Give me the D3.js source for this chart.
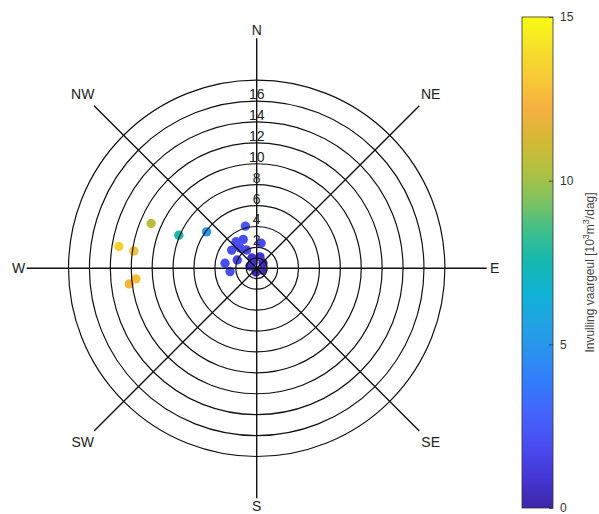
<!DOCTYPE html>
<html>
<head>
<meta charset="utf-8">
<script src="https://cdn.jsdelivr.net/npm/d3@7"></script>
<style>
  html, body { margin: 0; padding: 0; background: #fff; }
  svg { display: block; font-family: "Liberation Sans", Arial, Helvetica, sans-serif; }
</style>
</head>
<body>
<svg id="chart" width="599" height="514"></svg>
<script>
// ---- data ----
// direction in degrees clockwise from North, radial magnitude, colour value (10^3 m^3/dag)
const directions = [279, 278, 293, 293, 306, 263, 265,
                    345, 322, 335, 306, 293, 279, 263, 10, 331, 321,
                    335, 16, 50, 289, 191, 108, 330];
const magnitudes = [13.35, 11.86, 10.97, 8.09, 5.93, 12.28, 11.6,
                    4.18, 3.22, 3.05, 2.96, 2.02, 3.07, 2.57, 2.43, 2.0, 2.5,
                    1.08, 1.13, 0.79, 0.68, 0.36, 0.53, 0.7];
const infill = [13.4, 12.8, 10.6, 7.6, 5.2, 12.3, 12.7,
                2.4, 2.1, 2.0, 1.9, 1.7, 2.0, 1.9, 1.8, 1.6, 1.8,
                0.7, 0.8, 0.6, 0.6, 0.3, 0.5, 0.6];

const ringValues = [1, 2, 4, 6, 8, 10, 12, 14, 16, 18];
const ringLabels = [2, 4, 6, 8, 10, 12, 14, 16];
const compassLabels = ["N", "NE", "E", "SE", "S", "SW", "W", "NW"];
const compassAngles = [0, 45, 90, 135, 180, 225, 270, 315];
const colorTicks = [0, 5, 10, 15];

// parula-like colormap stops (evenly spaced over 0..15)
const parula = ["#3e26a8", "#4536d5", "#484cf0", "#4562fc", "#337afd", "#2c8ff0",
                "#21a3e3", "#10b2d5", "#14b8b2", "#3cbe8c", "#80c260", "#b0c040",
                "#d4b935", "#f5b040", "#f7c935", "#f6e02a", "#f9fb14"];

// ---- layout ----
const svg = d3.select("#chart");
const cx = 256.7, cy = 268.3;
const r = d3.scaleLinear().domain([0, 22]).range([0, 230]);
const color = d3.scaleLinear()
  .domain(d3.range(parula.length).map(i => 15 * i / (parula.length - 1)))
  .range(parula).interpolate(d3.interpolateRgb).clamp(true);

const g = svg.append("g").attr("transform", `translate(${cx},${cy})`);
const rad = d => (d - 90) * Math.PI / 180;

// points
g.append("g").selectAll("circle")
  .data(directions.map((d, i) => ({dir: d, mag: magnitudes[i], v: infill[i]})))
  .join("circle")
  .attr("cx", d => r(d.mag) * Math.cos(rad(d.dir)))
  .attr("cy", d => r(d.mag) * Math.sin(rad(d.dir)))
  .attr("r", 4.7)
  .attr("fill", d => color(d.v));

// rings
g.append("g").selectAll("circle")
  .data(ringValues)
  .join("circle")
  .attr("r", d => r(d))
  .attr("fill", "none")
  .attr("stroke", "#111")
  .attr("stroke-width", 1.2);

// spokes
g.append("g").selectAll("line")
  .data(compassAngles)
  .join("line")
  .attr("x1", 0).attr("y1", 0)
  .attr("x2", d => r(22) * Math.cos(rad(d)))
  .attr("y2", d => r(22) * Math.sin(rad(d)))
  .attr("stroke", "#111")
  .attr("stroke-width", 1.4);

// ring labels
g.append("g").selectAll("text")
  .data(ringLabels)
  .join("text")
  .attr("x", 0)
  .attr("y", d => -r(d) - 2)
  .attr("text-anchor", "middle")
  .attr("font-size", 14)
  .attr("fill", "#222")
  .text(d => d);

// compass labels
g.append("g").selectAll("text")
  .data(compassLabels)
  .join("text")
  .attr("x", (d, i) => (compassAngles[i] % 90 === 0 ? 238 : 246) * Math.cos(rad(compassAngles[i])))
  .attr("y", (d, i) => (compassAngles[i] % 90 === 0 ? 238 : 246) * Math.sin(rad(compassAngles[i])))
  .attr("text-anchor", "middle")
  .attr("dominant-baseline", "central")
  .attr("font-size", 14)
  .attr("fill", "#222")
  .text(d => d);

// ---- colorbar ----
const cbX = 522, cbW = 31, cbTop = 17, cbBot = 508;
const cy2 = d3.scaleLinear().domain([0, 15]).range([cbBot, cbTop]);
const defs = svg.append("defs");
const grad = defs.append("linearGradient").attr("id", "parula")
  .attr("x1", 0).attr("y1", 1).attr("x2", 0).attr("y2", 0);
grad.selectAll("stop").data(parula).join("stop")
  .attr("offset", (d, i) => i / (parula.length - 1))
  .attr("stop-color", d => d);
svg.append("rect")
  .attr("x", cbX).attr("y", cbTop).attr("width", cbW).attr("height", cbBot - cbTop)
  .attr("fill", "url(#parula)")
  .attr("stroke", "#333").attr("stroke-width", 0.8);

const cbAxis = d3.axisRight(cy2).tickValues(colorTicks).tickSize(0).tickPadding(7);
const ax = svg.append("g").attr("transform", `translate(${cbX + cbW},0)`).call(cbAxis);
ax.select(".domain").remove();
ax.selectAll("text").attr("font-size", 12).attr("fill", "#333")
  .attr("font-family", "Liberation Sans, Arial, sans-serif");
ax.selectAll(".tick").append("line")
  .attr("x1", -4).attr("x2", 0).attr("stroke", "#333").attr("stroke-width", 0.8);

const lab = svg.append("text")
  .attr("transform", `translate(594,${(cbTop + cbBot) / 2 + 10}) rotate(-90)`)
  .attr("text-anchor", "middle")
  .attr("font-size", 12)
  .attr("fill", "#444");
lab.append("tspan").text("Invulling vaargeul [10");
lab.append("tspan").attr("dy", -5).attr("font-size", 9).text("3");
lab.append("tspan").attr("dy", 5).text("m");
lab.append("tspan").attr("dy", -5).attr("font-size", 9).text("3");
lab.append("tspan").attr("dy", 5).text("/dag]");
</script>
</body>
</html>
